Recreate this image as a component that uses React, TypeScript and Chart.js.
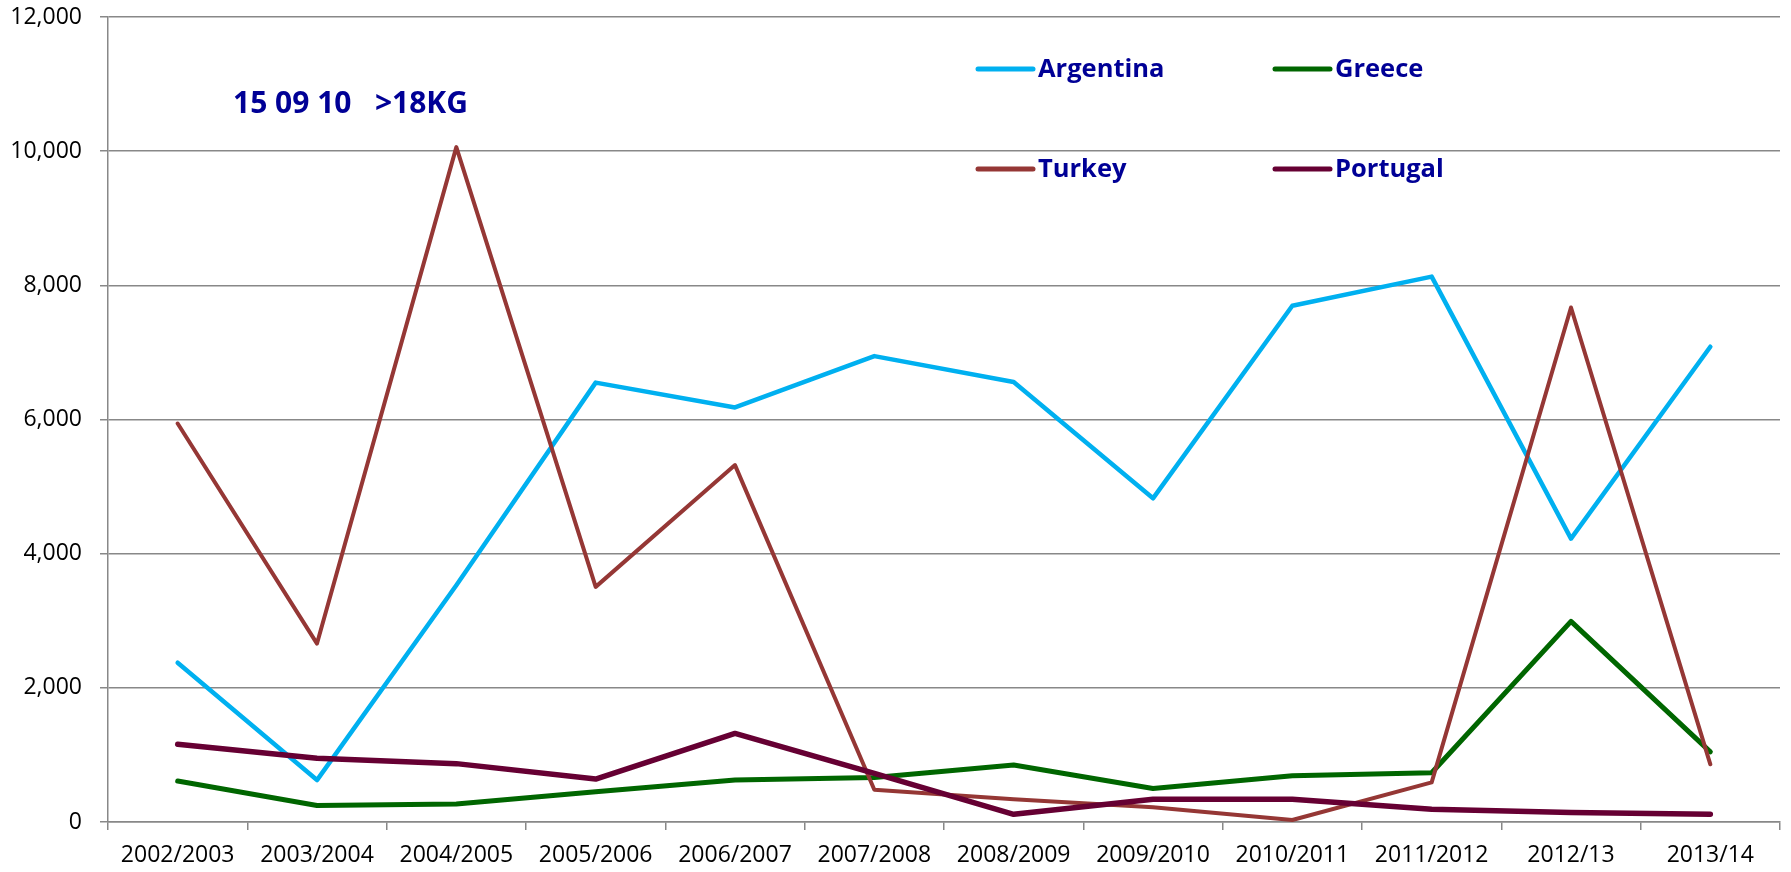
import React, { useEffect, useRef } from "react";
import { Chart, registerables } from "chart.js";

Chart.register(...registerables);

const categories = [
  "2002/2003", "2003/2004", "2004/2005", "2005/2006", "2006/2007", "2007/2008",
  "2008/2009", "2009/2010", "2010/2011", "2011/2012", "2012/13", "2013/14",
];
const argentina = [2375, 625, 3530, 6550, 6180, 6945, 6560, 4825, 7695, 8130, 4225, 7085];
const greece = [610, 245, 270, 450, 625, 665, 850, 500, 690, 735, 2990, 1045];
const turkey = [5940, 2660, 10060, 3505, 5320, 480, 340, 220, 30, 590, 7670, 860];
const portugal = [1160, 950, 870, 640, 1320, 725, 115, 340, 340, 190, 140, 115];
const seriesNames = ["Argentina", "Greece", "Turkey", "Portugal"];
const seriesColors = ["#00B0F0", "#006600", "#953735", "#660033"];
const seriesWidths = [4.5, 5, 4, 5.5];
const yTickValues = [0, 2000, 4000, 6000, 8000, 10000, 12000];
const titleText = "15 09 10   >18KG";

const FONT = "'Open Sans', 'Noto Sans', sans-serif";
const TEXT_BLUE = "#000096";

const overlayPlugin = {
  id: "overlay",
  afterDatasetsDraw(chart: any) {
    const ctx = chart.ctx;
    ctx.save();
    // title
    ctx.fillStyle = TEXT_BLUE;
    ctx.font = `bold 30px ${FONT}`;
    ctx.textAlign = "left";
    ctx.textBaseline = "middle";
    ctx.fillText(titleText, 233, 104);
    // legend 2x2
    const colX = [978, 1275];
    const rowY = [69, 169];
    chart.data.datasets.forEach((ds: any, i: number) => {
      const cx = colX[i % 2];
      const cy = rowY[Math.floor(i / 2)];
      ctx.strokeStyle = ds.borderColor;
      ctx.lineWidth = 5;
      ctx.lineCap = "round";
      ctx.beginPath();
      ctx.moveTo(cx, cy);
      ctx.lineTo(cx + 55, cy);
      ctx.stroke();
      ctx.fillStyle = TEXT_BLUE;
      ctx.font = `bold 25.5px ${FONT}`;
      ctx.textBaseline = "middle";
      ctx.fillText(ds.label, cx + 60, cy + 1);
    });
    ctx.restore();
  },
};

export default function App() {
  const ref = useRef<HTMLCanvasElement | null>(null);
  useEffect(() => {
    document.body.style.margin = "0";
    const values = [argentina, greece, turkey, portugal];
    const chart = new Chart(ref.current!, {
      type: "line",
      data: {
        labels: categories,
        datasets: values.map((v, i) => ({
          label: seriesNames[i],
          data: v,
          borderColor: seriesColors[i],
          backgroundColor: seriesColors[i],
          borderWidth: seriesWidths[i],
          pointRadius: 0,
          tension: 0,
          borderCapStyle: "round" as const,
          borderJoinStyle: "round" as const,
          order: 4 - i,
        })),
      },
      options: {
        responsive: false,
        animation: false,
        layout: { padding: { top: 17, right: 11, left: 0, bottom: 0 } },
        plugins: {
          legend: { display: false },
          tooltip: { enabled: false },
          title: { display: false },
        },
        scales: {
          x: {
            type: "category",
            offset: true,
            grid: {
              offset: true,
              drawOnChartArea: false,
              drawTicks: true,
              tickLength: 8,
              color: "#888888",
              lineWidth: 1.5,
            },
            border: { color: "#888888", width: 1.5 },
            ticks: {
              color: "#000000",
              font: { family: FONT, size: 23 },
              padding: 12,
              maxRotation: 0,
              autoSkip: false,
            },
            afterFit: (s: any) => {
              s.height = 50;
            },
          },
          y: {
            min: 0,
            max: 12000,
            afterBuildTicks: (s: any) => {
              s.ticks = yTickValues.map((v) => ({ value: v }));
            },
            grid: {
              color: "#888888",
              lineWidth: 1.5,
              drawTicks: true,
              tickLength: 8,
            },
            border: { color: "#888888", width: 1.5 },
            ticks: {
              color: "#000000",
              font: { family: FONT, size: 23 },
              padding: 18,
              callback: (v: any) => Number(v).toLocaleString("en-US"),
            },
            afterFit: (s: any) => {
              s.width = 108;
              s.paddingTop = 0;
              s.paddingBottom = 0;
            },
          },
        },
      },
      plugins: [overlayPlugin],
    });
    return () => chart.destroy();
  }, []);
  return (
    <div style={{ width: 1791, height: 872, background: "#ffffff" }}>
      <canvas ref={ref} width={1791} height={872} style={{ display: "block" }} />
    </div>
  );
}
